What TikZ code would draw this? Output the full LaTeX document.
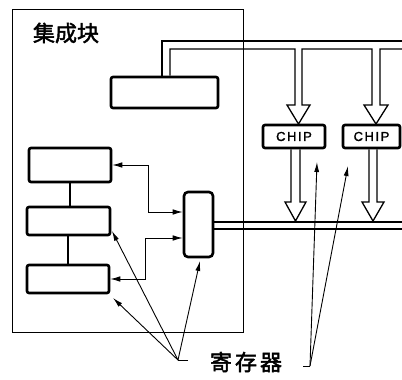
\documentclass[tikz,border=0pt]{standalone}
\usepackage{fontspec}
\newfontfamily\cjk[FakeBold=2]{Noto Sans CJK SC}
\newfontfamily\chipfont[LetterSpace=12,FakeBold=1.5]{Liberation Sans}
\usetikzlibrary{arrows.meta}
\begin{document}
\begin{tikzpicture}[x=1pt,y=-1pt,
  blk/.style={draw, line width=2.6pt, rounded corners=2pt, inner sep=0pt},
  chipbox/.style={blk, font=\chipfont\fontsize{13}{13}\selectfont},
  thin/.style={line width=0.9pt},
  bus/.style={line width=1.3pt},
  dbl/.style={line width=1.5pt},
  ptr/.style={thin, -{Latex[length=10pt,width=5pt]}},
  conn/.style={thin, {Latex[length=10pt,width=5.5pt]}-{Latex[length=10pt,width=5.5pt]}}
]
\useasboundingbox (0,0) rectangle (402,380);
% frame
\draw[thin] (12,9) rectangle (243,332);
\node[font=\cjk\fontsize{22}{22}\selectfont] (title) at (66,33) {集成块};
% boxes
\node[blk, minimum width=107pt, minimum height=31pt] (T) at (164.5,92.5) {};
\node[blk, minimum width=82pt, minimum height=34pt] (A) at (70,165) {};
\node[blk, minimum width=83pt, minimum height=28pt] (B) at (68.5,221) {};
\node[blk, minimum width=82pt, minimum height=28pt] (C) at (68,279) {};
\node[blk, minimum width=29pt, minimum height=65pt, rounded corners=4pt] (D) at (198.5,224.5) {};
\node[chipbox, minimum width=62pt, minimum height=23pt] (C1) at (294,136.5) {CHIP};
\node[chipbox, minimum width=57pt, minimum height=23pt] (C2) at (371.5,136.5) {CHIP};
% vertical links
\draw[dbl] (A.south -| 70,0) -- (B.north -| 70,0);
\draw[dbl] (B.south -| 68,0) -- (C.north -| 68,0);
% connectors to D
\draw[conn] (A.east) -| (148,212) -- ([yshift=12.5pt]D.west);
\draw[conn] (C.east) -| (145,238) -- ([yshift=-13.5pt]D.west);
% top bus
\draw[bus] ([xshift=-2.5pt]T.north) |- (402,41);
\draw[bus, line join=miter] ([xshift=5.5pt]T.north) |- (295,49) -- (295,105) -- (287,105) -- (298.5,124)
  -- (310,105) -- (302,105) -- (302,49) -- (372,49) -- (372,105) -- (364,105) -- (376,124)
  -- (388,105) -- (380,105) -- (380,49) -- (402,49);
% lower bus
\draw[bus] ([yshift=2.5pt]D.east) -- (402,222);
\draw[bus] ([yshift=-4.5pt]D.east) -- (402,229);
\draw[bus] (C1.south -| 291,0) -- (291,202) -- (285,202) -- (295.5,221) -- (306,202) -- (300,202) -- (C1.south -| 300,0);
\draw[bus] (C2.south -| 369,0) -- (369,202) -- (362,202) -- (373,221) -- (384,202) -- (377,202) -- (C2.south -| 377,0);
% label
\node[font=\cjk\fontsize{22}{22}\selectfont] (lab) at (246,362) {寄\hspace{3pt}存\hspace{3pt}器};
\coordinate (L) at (178,360);
\coordinate (R) at (310,366);
\coordinate (tD) at (200,261);
\coordinate (tB) at (112,231);
\coordinate (tC) at (113,298);
\coordinate (t1) at (317,162);
\coordinate (t2) at (348,166);
\draw[thin] (188,360) -- (L);
\draw[ptr] (L) -- (tD);
\draw[ptr] (L) -- (tB);
\draw[ptr] (L) -- (tC);
\draw[thin] (303,366) -- (R);
\draw[ptr] (R) -- (t1);
\draw[ptr] (R) -- (t2);
\end{tikzpicture}
\end{document}
